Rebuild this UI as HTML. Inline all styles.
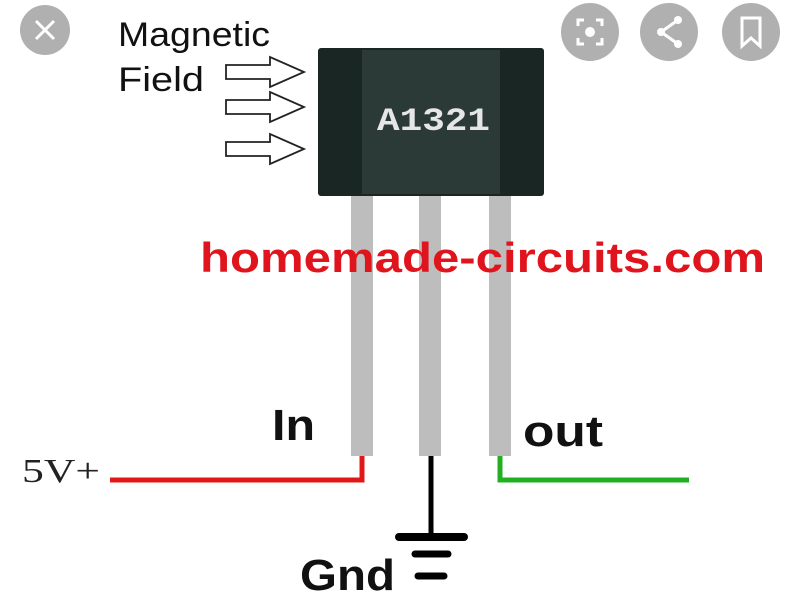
<!DOCTYPE html>
<html><head><style>
body{margin:0;background:#fff;}
svg text{font-family:"Liberation Sans",sans-serif;}
</style></head><body>
<svg width="800" height="600" viewBox="0 0 800 600" xmlns="http://www.w3.org/2000/svg">
<rect width="800" height="600" fill="#fff"/>
<circle cx="45" cy="30" r="25" fill="#b0b0b0"/>
<path d="M36 21 L54 39 M54 21 L36 39" stroke="#fff" stroke-width="3"/>
<circle cx="590" cy="32" r="29" fill="#b0b0b0"/>
<circle cx="590" cy="32" r="5" fill="#fff"/>
<path d="M578 26 v-6 h6 M596 20 h6 v6 M602 38 v6 h-6 M584 44 h-6 v-6" stroke="#fff" stroke-width="3" fill="none"/>
<circle cx="669" cy="32" r="29" fill="#b0b0b0"/>
<circle cx="678" cy="20" r="4" fill="#fff"/><circle cx="661" cy="32" r="4" fill="#fff"/><circle cx="678" cy="44" r="4" fill="#fff"/>
<path d="M678 20 L661 32 L678 44" stroke="#fff" stroke-width="3" fill="none"/>
<circle cx="751" cy="32" r="29" fill="#b0b0b0"/>
<path d="M742 18 h18 v28 l-9 -8 l-9 8 z" stroke="#fff" stroke-width="3" fill="none"/>
<text x="118" y="46" font-size="34" fill="#111" textLength="152" lengthAdjust="spacingAndGlyphs">Magnetic</text>
<text x="118" y="91" font-size="34" fill="#111" textLength="86" lengthAdjust="spacingAndGlyphs">Field</text>
<g fill="#fff" stroke="#222" stroke-width="1.8">
<path d="M226 65 h44 v-8 l34 15 l-34 15 v-8 h-44 z"/>
<path d="M226 100 h44 v-8 l34 15 l-34 15 v-8 h-44 z"/>
<path d="M226 142 h44 v-8 l34 15 l-34 15 v-8 h-44 z"/>
</g>
<rect x="351" y="192" width="22" height="264" fill="#bdbdbd"/>
<rect x="419" y="192" width="22" height="264" fill="#bdbdbd"/>
<rect x="489" y="192" width="22" height="264" fill="#bdbdbd"/>
<rect x="318" y="48" width="226" height="148" rx="3" fill="#1a2624"/>
<rect x="362" y="50" width="138" height="144" fill="#2b3937"/>
<text x="377" y="130" font-size="32" fill="#e6e6e6" font-weight="bold" textLength="113" lengthAdjust="spacingAndGlyphs" style="font-family:'Liberation Mono',monospace">A1321</text>
<text x="200" y="272" font-size="42" font-weight="bold" fill="#e0141c" textLength="565" lengthAdjust="spacingAndGlyphs">homemade-circuits.com</text>
<path d="M110 480 H362 V456" stroke="#e01818" stroke-width="5" fill="none"/>
<path d="M500 456 V480 H689" stroke="#22b022" stroke-width="5" fill="none"/>
<path d="M431 456 V536" stroke="#000" stroke-width="5" fill="none"/>
<path d="M399 537 H464" stroke="#000" stroke-width="8" stroke-linecap="round"/>
<path d="M415 554 H448" stroke="#000" stroke-width="7" stroke-linecap="round"/>
<path d="M418 576 H444" stroke="#000" stroke-width="7" stroke-linecap="round"/>
<text x="272" y="440" font-size="44" font-weight="bold" fill="#111" textLength="43" lengthAdjust="spacingAndGlyphs">In</text>
<text x="523" y="446" font-size="44" font-weight="bold" fill="#111" textLength="80" lengthAdjust="spacingAndGlyphs">out</text>
<text x="300" y="590" font-size="44" font-weight="bold" fill="#111" textLength="95" lengthAdjust="spacingAndGlyphs">Gnd</text>
<text x="22" y="482" font-size="34" fill="#222" textLength="78" lengthAdjust="spacingAndGlyphs" style="font-family:'Liberation Serif',serif">5V+</text>
</svg>
</body></html>
